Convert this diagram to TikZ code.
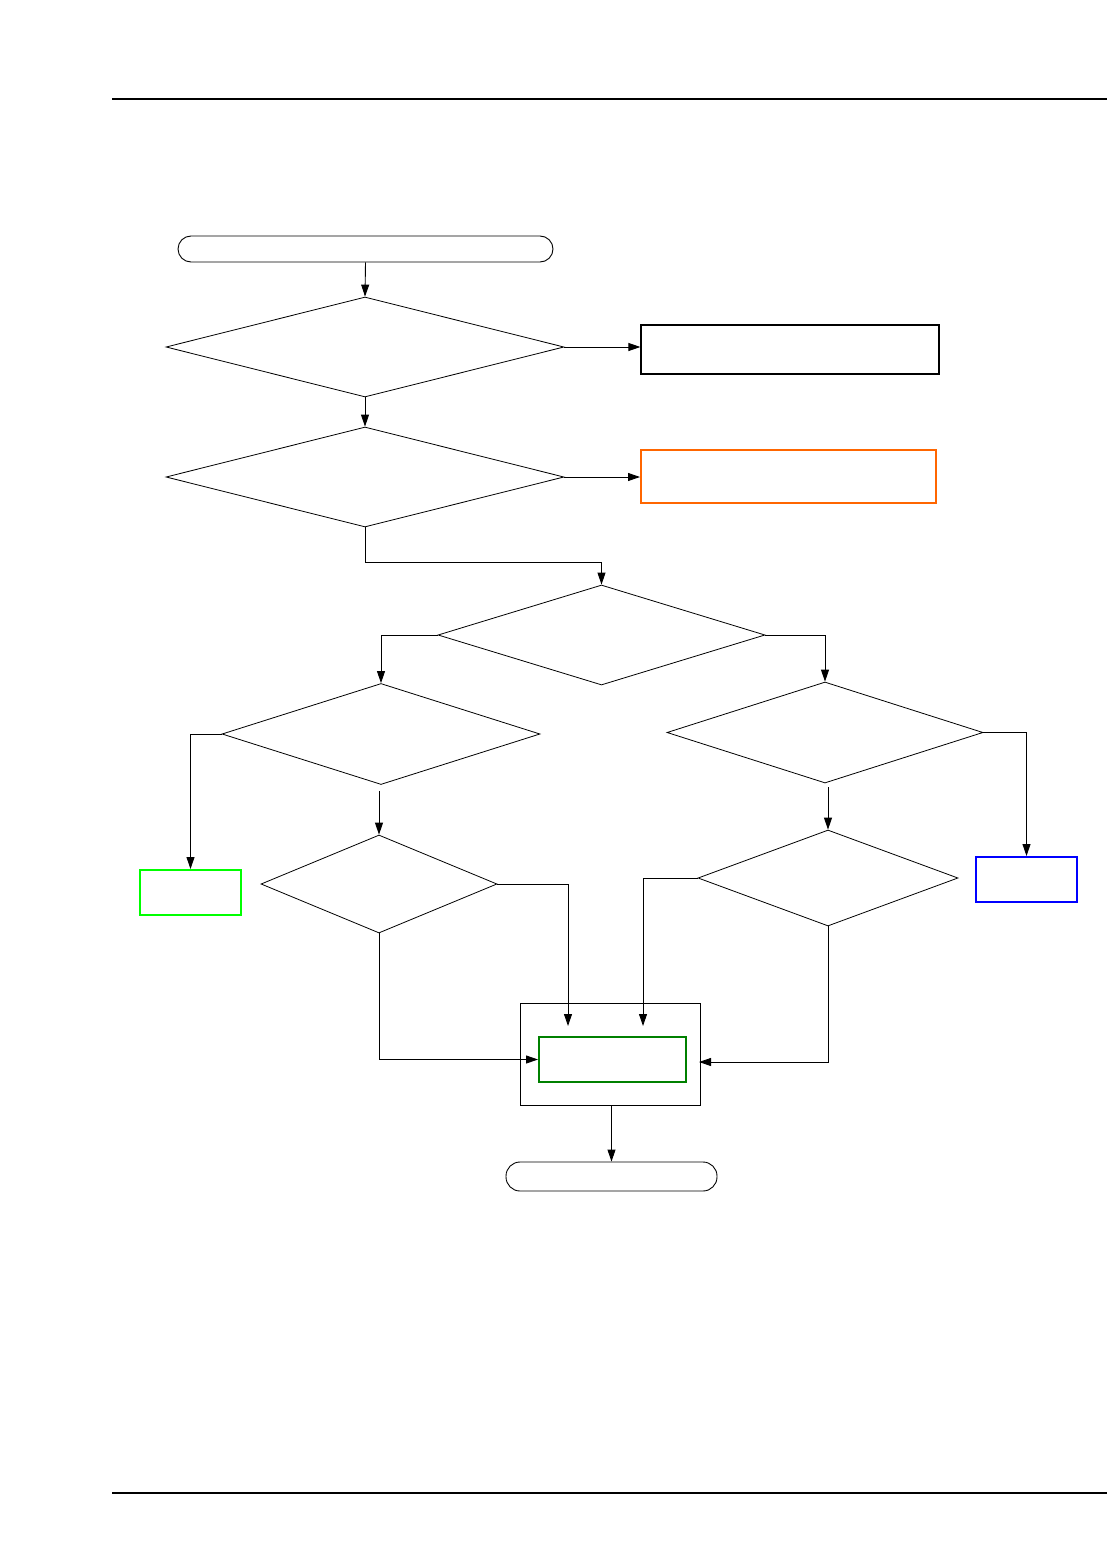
\documentclass[tikz,border=0pt]{standalone}
\usetikzlibrary{shapes.geometric,arrows.meta}
\definecolor{orangeb}{RGB}{255,102,0}
\definecolor{lgreen}{RGB}{0,255,0}
\definecolor{dgreen}{RGB}{0,128,0}
\definecolor{blueb}{RGB}{0,0,255}
\begin{document}
\begin{tikzpicture}[x=1pt,y=-1pt,
  dec/.style={draw,shape=diamond,inner sep=0pt,line width=0.8pt},
  termbox/.style={draw,rectangle,rounded corners=13pt,inner sep=0pt,line width=0.9pt},
  procbox/.style={draw,rectangle,inner sep=0pt,line width=1.2pt},
  colbox/.style={draw,rectangle,inner sep=0pt,line width=2pt},
  conn/.style={line width=0.9pt,-{Triangle[length=12pt,width=8pt]}},
  rule/.style={line width=1.1pt}]
\useasboundingbox (0,0) rectangle (1107,1554);
\path[rule,draw] (112,99) coordinate (h1) -- (1107,99) coordinate (h2);
\path[rule,draw] (112,1493) coordinate (f1) -- (1107,1493) coordinate (f2);

\node[termbox,minimum width=375pt,minimum height=26pt] (start) at (365.5,249) {};
\node[dec,minimum width=398pt,minimum height=100pt] (d1) at (365,347) {};
\node[procbox,minimum width=298pt,minimum height=49pt] (b1) at (790,349.5) {};
\node[dec,minimum width=398pt,minimum height=100pt] (d2) at (365,477) {};
\node[colbox,draw=orangeb,minimum width=295pt,minimum height=53pt] (b2) at (788.5,476.5) {};
\node[dec,minimum width=327pt,minimum height=100pt] (d3) at (601.5,635) {};
\node[dec,minimum width=318pt,minimum height=101pt] (d4) at (381,734) {};
\node[dec,minimum width=316pt,minimum height=101pt] (d5) at (825,732.5) {};
\node[colbox,draw=lgreen,minimum width=101pt,minimum height=45pt] (g1) at (190.5,892.5) {};
\node[colbox,draw=blueb,minimum width=101pt,minimum height=45pt] (bl) at (1026.5,879.5) {};
\node[dec,minimum width=236pt,minimum height=98pt] (d6) at (379,884) {};
\node[dec,minimum width=260pt,minimum height=96pt] (d7) at (828,878) {};
\node[procbox,line width=1pt,minimum width=180pt,minimum height=102pt] (outer) at (610,1054) {};
\node[colbox,draw=dgreen,minimum width=147pt,minimum height=45pt] (inner) at (612.5,1059.5) {};
\node[termbox,minimum width=211pt,minimum height=29pt,rounded corners=14pt] (end) at (611.5,1176.5) {};

\coordinate (ta) at (568,1026);
\coordinate (tb) at (643,1026);
\coordinate (tc) at (699,1062);

\draw[conn] (start.south) -- (d1.north);
\draw[conn] (d1.east) -- (d1.east -| b1.west);
\draw[conn] (d1.south) -- (d2.north);
\draw[conn] (d2.east) -- (d2.east -| b2.west);
\draw[conn] (d2.south) -- ++(0,35) -| (d3.north);
\draw[conn] (d3.west) -| (d4.north);
\draw[conn] (d3.east) -| (d5.north);
\draw[conn] (d4.west) -| (g1.north);
\draw[conn] ([yshift=-6pt]d4.south -| d6.north) -- (d6.north);
\draw[conn] (d5.east) -| (bl.north);
\draw[conn] ([yshift=-4pt]d5.south -| d7.north) -- (d7.north);
\draw[conn] (d6.east) -| (ta);
\draw[conn] (d6.south) |- (inner.west);
\draw[conn] (d7.west) -| (tb);
\draw[conn] (d7.south) |- (tc);
\draw[conn] (outer.south -| end.north) -- (end.north);
\end{tikzpicture}
\end{document}
